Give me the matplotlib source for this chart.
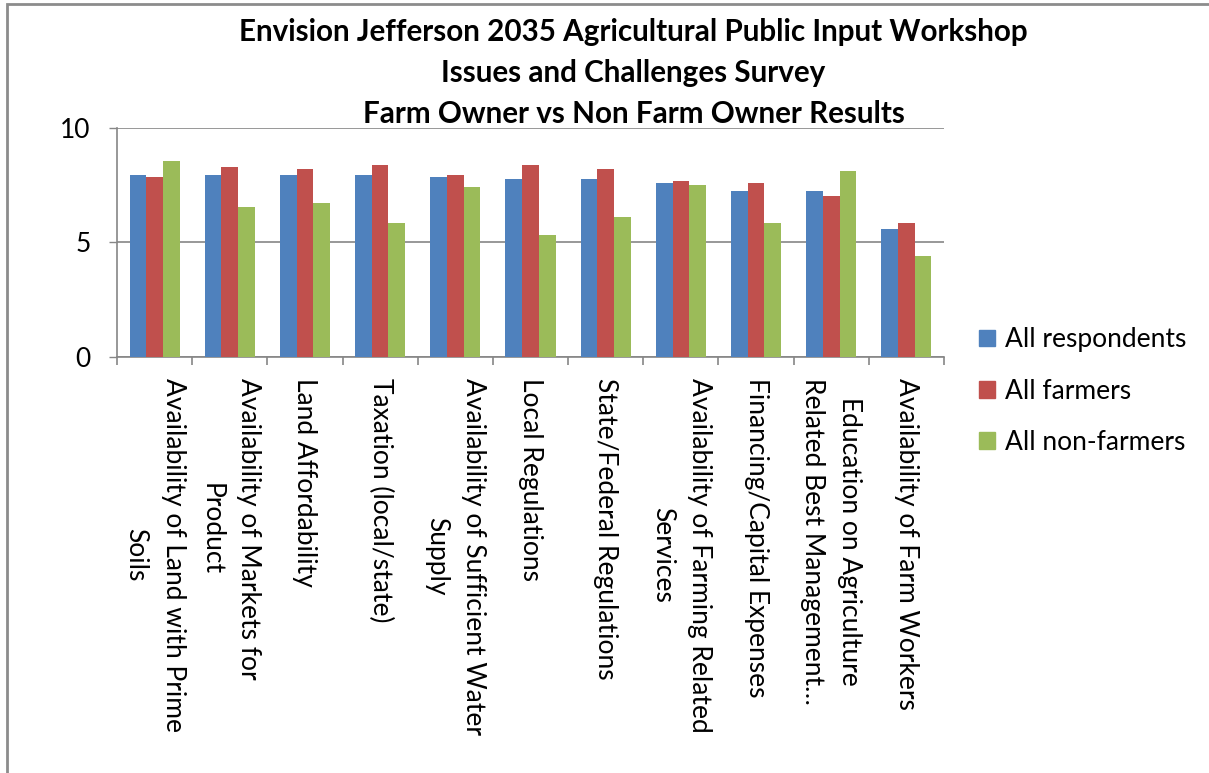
import numpy as np
import matplotlib
matplotlib.use("Agg")
import matplotlib.pyplot as plt
from matplotlib.patches import Rectangle, Patch


categories = [
    "Availability of Land with Prime\nSoils",
    "Availability of Markets for\nProduct",
    "Land Affordability",
    "Taxation (local/state)",
    "Availability of Sufficient Water\nSupply",
    "Local Regulations",
    "State/Federal Regulations",
    "Availability of Farming Related\nServices",
    "Financing/Capital Expenses",
    "Education on Agriculture\nRelated Best Management\u2026",
    "Availability of Farm Workers",
]
all_respondents = [7.95, 7.95, 7.95, 7.95, 7.86, 7.78, 7.78, 7.60, 7.27, 7.27, 5.61]
all_farmers = [7.86, 8.30, 8.21, 8.40, 7.95, 8.40, 8.21, 7.69, 7.62, 7.01, 5.86]
all_non_farmers = [8.56, 6.55, 6.73, 5.86, 7.43, 5.33, 6.12, 7.51, 5.86, 8.12, 4.40]

series_names = ["All respondents", "All farmers", "All non-farmers"]
series_colors = ["#4F81BD", "#C0504D", "#9BBB59"]
y_ticks = [0, 5, 10]

TITLE = ("Envision Jefferson 2035 Agricultural Public Input Workshop\n"
         "Issues and Challenges Survey\n"
         "Farm Owner vs Non Farm Owner Results")

plt.rcParams["font.family"] = ["Lato", "DejaVu Sans"]
GRAY = "#868686"

fig = plt.figure(figsize=(12.09, 7.73), dpi=100)
ax = fig.add_axes([117 / 1209, 1 - 357 / 773, 827 / 1209, 229 / 773])

x = np.arange(len(categories))
width = 0.222
series = [all_respondents, all_farmers, all_non_farmers]
for i, (vals, color) in enumerate(zip(series, series_colors)):
    ax.bar(x + (i - 1) * width, vals, width, color=color, zorder=3)

ax.set_xlim(-0.5, len(categories) - 0.5)
ax.set_ylim(0, 10)
ax.set_yticks(y_ticks)
ax.set_yticklabels([str(t) for t in y_ticks], fontsize=19)
ax.yaxis.grid(True, color=GRAY, linewidth=1.2, zorder=0)
ax.tick_params(axis="y", length=6, width=1, color=GRAY, pad=13)

ax.set_xticks(x)
ax.set_xticklabels(categories, rotation=270, fontsize=19, ha="center", va="top",
                   linespacing=1.6, multialignment="center")
ax.set_xticks(np.arange(len(categories) + 1) - 0.5, minor=True)
ax.tick_params(axis="x", which="major", length=0, pad=15)
ax.tick_params(axis="x", which="minor", length=6, width=1.2, color=GRAY)

for side in ("top", "right"):
    ax.spines[side].set_visible(False)
for side in ("left", "bottom"):
    ax.spines[side].set_color(GRAY)
    ax.spines[side].set_linewidth(1.2)

handles = [Patch(color=c) for c in series_colors]
fig.legend(handles, series_names, loc="center left", bbox_to_anchor=(0.790, 0.494),
           frameon=False, fontsize=19, handlelength=0.6, handleheight=0.6,
           handletextpad=0.4, labelspacing=1.0)

fig.text(0.524, 1 - 73 / 773, TITLE, ha="center", va="center", fontsize=21.3,
         fontweight="bold", linespacing=1.58)

fig.add_artist(Rectangle((7 / 1209, -0.01), 1.02, 1 - 4 / 773 + 0.01,
                         transform=fig.transFigure, fill=False,
                         edgecolor="#8c8c8c", linewidth=2))

fig.savefig("out.png", dpi=100)
